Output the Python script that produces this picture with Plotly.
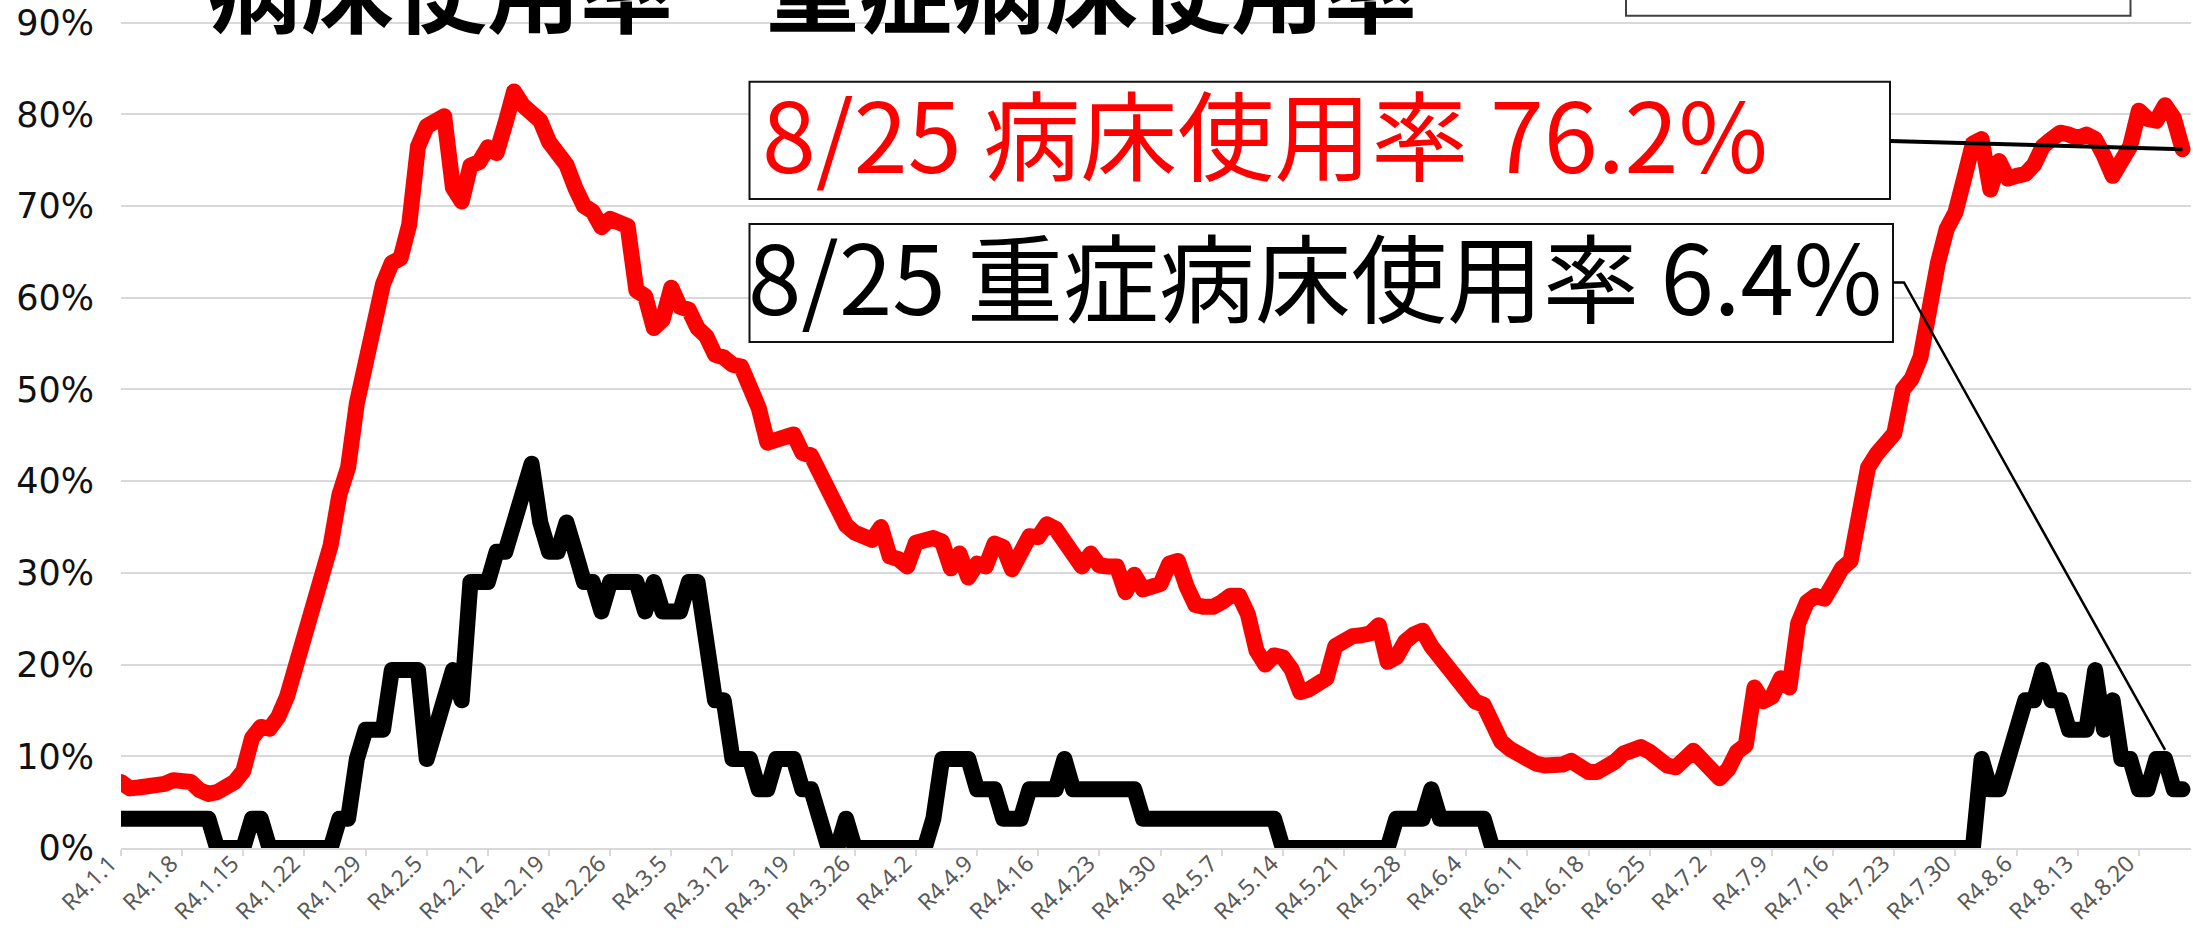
import plotly.graph_objects as go
import pandas as pd

# ---------------- data ----------------
dates = pd.date_range("2022-01-01", "2022-08-25", freq="D")
days = list(range(len(dates)))

# 病床使用率 (%)
bed_rate = [
    7.2, 6.5, 6.6, 6.6, 6.6, 7.0, 7.4, 7.5, 7.2, 6.3,
    5.9, 6.1, 6.6, 7.2, 8.4, 12.0, 13.2, 13.0, 14.3, 16.5,
    19.8, 23.0, 26.0, 29.0, 33.0, 38.5, 41.5, 48.5, 53.5, 58.0,
    61.5, 63.8, 64.3, 68.0, 76.5, 78.7, 79.3, 79.8, 72.0, 70.5,
    74.4, 74.8, 76.4, 75.8, 79.0, 82.5, 81.0, 80.0, 79.3, 77.0,
    76.0, 74.5, 72.0, 70.0, 69.4, 67.7, 68.6, 68.3, 67.8, 60.8,
    60.2, 56.7, 57.6, 61.1, 59.0, 58.7, 56.7, 55.8, 53.8, 53.5,
    52.7, 52.5, 50.5, 48.0, 44.2, 44.3, 44.8, 45.1, 43.1, 42.8,
    41.0, 38.5, 36.5, 35.2, 34.4, 34.1, 33.6, 35.0, 31.8, 31.5,
    30.7, 33.3, 33.6, 33.8, 33.4, 30.5, 32.1, 29.5, 31.0, 30.7,
    33.2, 32.8, 30.4, 32.3, 34.0, 33.9, 35.3, 34.8, 33.5, 32.0,
    30.7, 32.1, 30.8, 30.7, 30.7, 27.9, 29.8, 28.2, 28.5, 28.8,
    31.0, 31.3, 28.5, 26.5, 26.3, 26.3, 26.8, 27.5, 27.5, 25.5,
    21.5, 20.0, 21.0, 20.8, 19.5, 17.0, 17.3, 17.8, 18.5, 22.0,
    22.8, 23.1, 23.2, 23.4, 24.3, 20.3, 20.8, 22.5, 23.3, 23.7,
    22.0, 20.8, 19.2, 18.0, 16.8, 16.0, 15.6, 13.0, 11.6, 10.8,
    10.2, 9.6, 9.2, 9.0, 9.0, 9.1, 9.5, 8.9, 8.3, 8.3,
    8.7, 9.4, 10.3, 10.8, 11.0, 10.5, 9.5, 9.0, 8.8, 9.6,
    10.6, 9.6, 8.3, 7.6, 8.6, 10.5, 11.2, 17.5, 16.0, 16.5,
    18.5, 17.5, 24.5, 26.8, 27.5, 27.2, 28.8, 30.5, 31.3, 36.5,
    41.5, 43.0, 44.0, 45.2, 50.0, 51.2, 53.5, 60.0, 63.8, 67.5,
    69.3, 73.0, 76.8, 77.3, 71.8, 74.9, 73.0, 73.3, 73.5, 74.5,
    76.5, 77.3, 78.0, 77.8, 77.4, 77.8, 77.3, 75.5, 73.3, 74.9,
    76.5, 80.4, 79.5, 79.3, 81.0, 79.6, 76.2,
]

# 重症病床使用率 (%)
severe_rate = [
    3.2, 3.2, 3.2, 3.2, 3.2, 3.2, 3.2, 3.2, 3.2, 3.2,
    3.2, 0, 0, 0, 0, 3.2, 3.2, 0, 0, 0,
    0, 0, 0, 0, 0, 3.2, 3.2, 9.7, 12.9, 12.9,
    12.9, 19.4, 19.4, 19.4, 19.4, 9.7, 12.9, 16.1, 19.4, 16.1,
    29.0, 29.0, 29.0, 32.3, 32.3, 35.5, 38.7, 41.9, 35.5, 32.3,
    32.3, 35.5, 32.3, 29.0, 29.0, 25.8, 29.0, 29.0, 29.0, 29.0,
    25.8, 29.0, 25.8, 25.8, 25.8, 29.0, 29.0, 22.6, 16.1, 16.1,
    9.7, 9.7, 9.7, 6.4, 6.4, 9.7, 9.7, 9.7, 6.4, 6.4,
    3.2, 0, 0, 3.2, 0, 0, 0, 0, 0, 0,
    0, 0, 0, 3.2, 9.7, 9.7, 9.7, 9.7, 6.4, 6.4,
    6.4, 3.2, 3.2, 3.2, 6.4, 6.4, 6.4, 6.4, 9.7, 6.4,
    6.4, 6.4, 6.4, 6.4, 6.4, 6.4, 6.4, 3.2, 3.2, 3.2,
    3.2, 3.2, 3.2, 3.2, 3.2, 3.2, 3.2, 3.2, 3.2, 3.2,
    3.2, 3.2, 3.2, 0, 0, 0, 0, 0, 0, 0,
    0, 0, 0, 0, 0, 0, 3.2, 3.2, 3.2, 3.2,
    6.4, 3.2, 3.2, 3.2, 3.2, 3.2, 3.2, 0, 0, 0,
    0, 0, 0, 0, 0, 0, 0, 0, 0, 0,
    0, 0, 0, 0, 0, 0, 0, 0, 0, 0,
    0, 0, 0, 0, 0, 0, 0, 0, 0, 0,
    0, 0, 0, 0, 0, 0, 0, 0, 0, 0,
    0, 0, 0, 0, 0, 0, 0, 0, 0, 0,
    0, 0, 0, 9.7, 6.4, 6.4, 9.7, 12.9, 16.1, 16.1,
    19.4, 16.1, 16.1, 12.9, 12.9, 12.9, 19.4, 12.9, 16.1, 9.7,
    9.7, 6.4, 6.4, 9.7, 9.7, 6.4, 6.4,
]

tick_labels = [
    "R4.1.1", "R4.1.8", "R4.1.15", "R4.1.22", "R4.1.29", "R4.2.5", "R4.2.12",
    "R4.2.19", "R4.2.26", "R4.3.5", "R4.3.12", "R4.3.19", "R4.3.26", "R4.4.2",
    "R4.4.9", "R4.4.16", "R4.4.23", "R4.4.30", "R4.5.7", "R4.5.14", "R4.5.21",
    "R4.5.28", "R4.6.4", "R4.6.11", "R4.6.18", "R4.6.25", "R4.7.2", "R4.7.9",
    "R4.7.16", "R4.7.23", "R4.7.30", "R4.8.6", "R4.8.13", "R4.8.20",
]
tick_days = days[::7]

y_ticks = [0, 10, 20, 30, 40, 50, 60, 70, 80, 90]
y_labels = ["0%", "10%", "20%", "30%", "40%", "50%", "60%", "70%", "80%", "90%"]

title_text = "病床使用率　重症病床使用率"
label_bed = "8/25 病床使用率 76.2%"
label_severe = "8/25 重症病床使用率 6.4%"

# ---------------- layout geometry ----------------
W, H = 2193, 931
ML, MR, MT, MB = 121, 2, 0, 83
PW, PH = W - ML - MR, H - MT - MB
XMAX = 236.97
YMAX = 92.47


def px_x(px):
    return (px - ML) / PW


def px_y(py):
    return (PH + MT - py) / PH


def data_x(px):
    return (px - ML) / PW * XMAX


def data_y(py):
    return (PH + MT - py) / PH * YMAX


fig = go.Figure()
fig.add_trace(go.Scatter(x=days, y=bed_rate, mode="lines", name="病床使用率",
                         line=dict(color="#FF0000", width=16)))
fig.add_trace(go.Scatter(x=days, y=severe_rate, mode="lines", name="重症病床使用率",
                         line=dict(color="#000000", width=16)))

shapes = [
    # label boxes
    dict(type="rect", xref="paper", yref="paper", layer="above",
         x0=px_x(749.5), x1=px_x(1890), y0=px_y(199), y1=px_y(81.7),
         line=dict(color="#111111", width=2), fillcolor="white"),
    dict(type="rect", xref="paper", yref="paper", layer="above",
         x0=px_x(749.5), x1=px_x(1893), y0=px_y(342), y1=px_y(224),
         line=dict(color="#111111", width=2), fillcolor="white"),
    # top-right (cropped) box
    dict(type="rect", xref="paper", yref="paper", layer="above",
         x0=px_x(1626), x1=px_x(2130.5), y0=px_y(15.7), y1=px_y(-40),
         line=dict(color="#404040", width=2), fillcolor="white"),
    # leader lines
    dict(type="line", xref="x", yref="y", layer="above",
         x0=data_x(1890), y0=data_y(141), x1=days[-1], y1=bed_rate[-1],
         line=dict(color="#000000", width=4)),
    dict(type="path", xref="x", yref="y", layer="above",
         path=(f"M {data_x(1893)},{data_y(282.5)} L {data_x(1904)},{data_y(282.5)} "
               f"L {days[-3]},{severe_rate[-3] + 1.0}"),
         line=dict(color="#000000", width=2.5)),
]

annotations = [
    dict(text=title_text, xref="paper", yref="paper", x=px_x(812.7), y=px_y(-14),
         xanchor="center", yanchor="middle", showarrow=False,
         font=dict(family="Noto Sans CJK JP", size=93, color="#000000", weight="bold")),
    dict(text=label_bed, xref="paper", yref="paper", x=px_x(1265), y=px_y(131),
         xanchor="center", yanchor="middle", showarrow=False,
         font=dict(family="Noto Sans CJK JP", size=97, color="#FF0000")),
    dict(text=label_severe, xref="paper", yref="paper", x=px_x(1315), y=px_y(274),
         xanchor="center", yanchor="middle", showarrow=False,
         font=dict(family="Noto Sans CJK JP", size=96, color="#000000")),
]

fig.update_layout(
    width=W, height=H,
    margin=dict(l=ML, r=MR, t=MT, b=MB, pad=0, autoexpand=False),
    paper_bgcolor="white", plot_bgcolor="white",
    showlegend=False,
    shapes=shapes, annotations=annotations,
    xaxis=dict(range=[0, XMAX], tickmode="array", tickvals=tick_days, ticktext=tick_labels,
               tickangle=-45, ticks="outside", ticklen=6, tickwidth=2, tickcolor="#d9d9d9",
               showline=True, linecolor="#d9d9d9", linewidth=2, showgrid=False, zeroline=False,
               ticklabelstandoff=-15, ticklabelshift=-11,
               tickfont=dict(family="Noto Sans", size=23, color="#595959"), automargin=False),
    yaxis=dict(range=[0, YMAX], tickmode="array", tickvals=y_ticks, ticktext=y_labels,
               showgrid=True, gridcolor="#d9d9d9", gridwidth=2,
               zeroline=False, showline=False, ticks="", ticklabelstandoff=26,
               tickfont=dict(family="DejaVu Sans", size=35, color="#111111"), automargin=False),
)

post = ("document.body.style.margin='0';document.body.style.overflow='hidden';"
        "var s=document.createElement('style');"
        "s.innerHTML='body{margin:0!important;} .scatterlayer .js-line{stroke-linejoin:round;stroke-linecap:round;}';"
        "document.head.appendChild(s);")
fig.write_html("out.html", post_script=post, config={"displayModeBar": False})
